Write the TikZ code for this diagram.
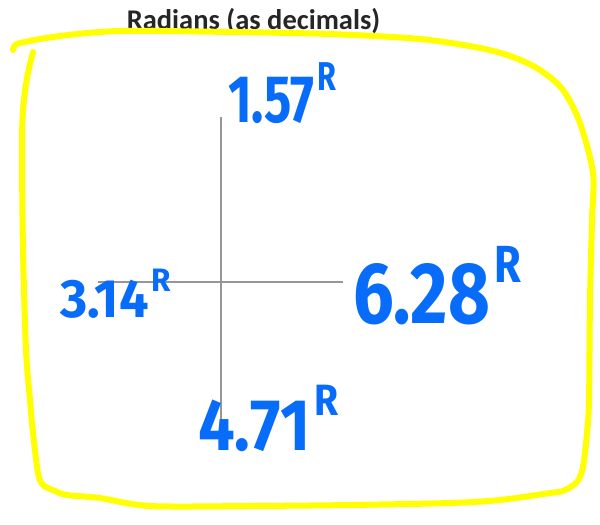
\documentclass[tikz,border=0pt]{standalone}
\usepackage{fontspec}
\usepackage{graphicx}
\setmainfont{Fira Sans}
\newfontfamily\titlefont{Carlito}
\definecolor{handblue}{RGB}{8,108,250}
\definecolor{markyellow}{RGB}{255,255,0}
\definecolor{axisgray}{RGB}{150,150,150}
\newcommand{\handtext}[2]{\scalebox{#1}[1]{#2}}
\newcommand{\radR}{\kern.06em\raisebox{.47em}{\scalebox{.6}{R}}}

\begin{document}
\begin{tikzpicture}[
    x=1pt, y=-1pt,
    axis/.style={draw=axisgray, line width=1.4pt},
    frame/.style={
        draw=markyellow,
        line width=6pt,
        line cap=round,
        line join=round
    },
    title/.style={
        font=\titlefont\bfseries\fontsize{28.5}{28.5}\selectfont,
        text=black!85,
        inner sep=0pt,
        anchor=base
    },
    hand/.style={
        text=handblue,
        inner sep=0pt,
        anchor=base west
    }
]
\useasboundingbox (0,0) rectangle (600,525);

% ==========================================================
% TITLE
% ==========================================================
\node[title] (title) at (253.5,29) {Radians (as decimals)};

% ==========================================================
% AXES
% ==========================================================
\coordinate (hleft) at (98,282);
\coordinate (hright) at (343,282);
\coordinate (vtop) at (221,117);
\coordinate (vbot) at (221,430);

\draw[axis] (hleft) -- (hright);
\draw[axis] (vtop) -- (vbot);

% ==========================================================
% HANDWRITTEN VALUES
% ==========================================================
\node[hand, font=\bfseries\fontsize{67}{67}\selectfont] (north) at (228,122)
    {\handtext{.76}{1.57\radR}};
\node[hand, font=\bfseries\fontsize{54}{54}\selectfont] (west) at (60,317)
    {\handtext{.97}{3.14\radR}};
\node[hand, font=\bfseries\fontsize{87}{87}\selectfont] (east) at (353,323)
    {\handtext{.83}{6.28\radR}};
\node[hand, font=\bfseries\fontsize{73}{73}\selectfont] (south) at (198,450)
    {\handtext{.89}{4.71\radR}};

% ==========================================================
% YELLOW FRAME
% ==========================================================
\draw[frame] plot[smooth, tension=.5] coordinates {
    (33,52) (27,78) (23,110) (22,150) (23,250) (26,350) (30,400)
    (33,433) (38,473) (43,485) (55,491) (67,495) (100,498) (150,506)
    (250,506) (350,505) (450,503) (500,500) (550,493) (563,491)
    (577,482) (583,467) (587,433) (589,400) (590,300) (592,220)
    (593,173) (580,123) (563,90) (540,70) (513,57) (480,48)
    (420,39) (330,34) (230,32) (120,31) (60,36) (20,43) (14,47) (13,50)
};

\end{tikzpicture}
\end{document}
